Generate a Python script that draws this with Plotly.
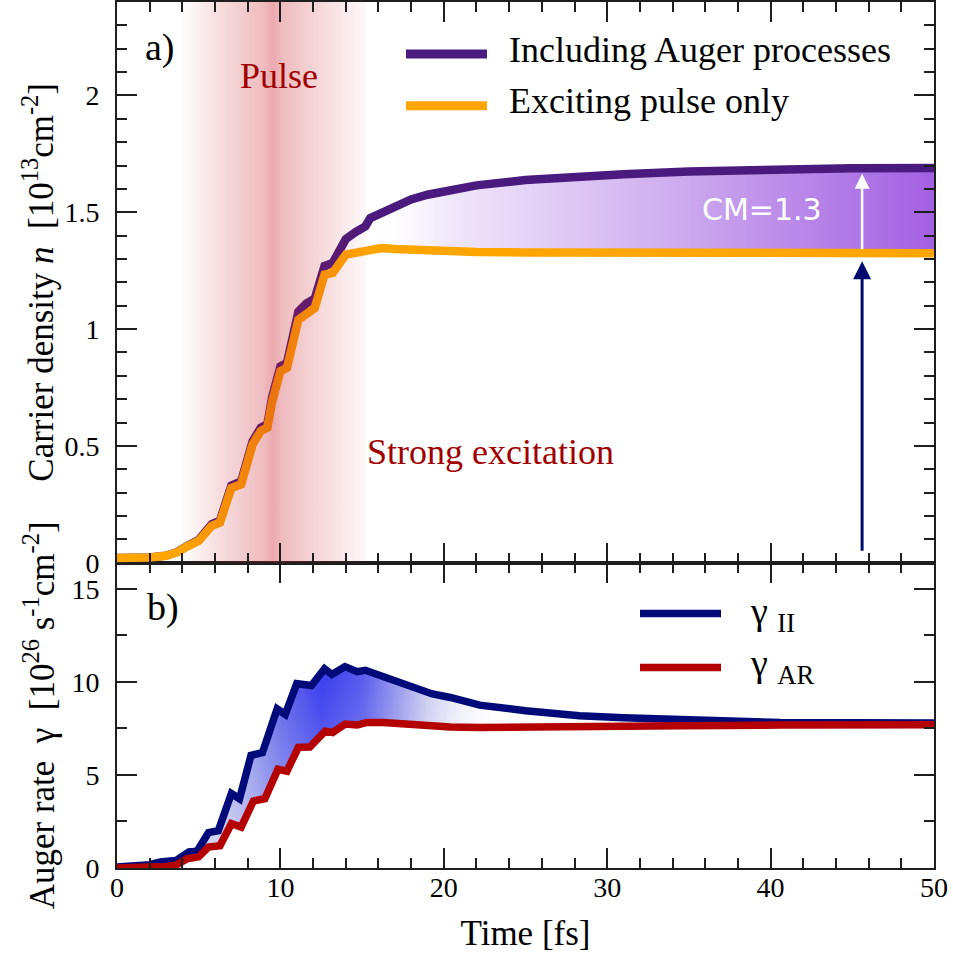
import plotly.graph_objects as go

# ------------------------------------------------------------------
# Data
# ------------------------------------------------------------------
# Panel a) carrier density n [1e13 cm^-2] vs time [fs]
T_N = [0, 1, 2, 3, 3.7, 4.3, 5.0, 5.8, 6.3, 7.0, 7.6, 8.3, 8.8, 9.2, 9.5,
       10.0, 10.4, 11.1, 11.6, 12.1, 12.7, 13.2, 14.0, 14.6, 15.2, 15.5,
       16.2, 17, 18, 19, 20, 22, 25, 28, 31, 35, 40, 45, 50]
N_AUGER = [0.02, 0.02, 0.022, 0.03, 0.046, 0.072, 0.097, 0.165, 0.18, 0.33,
           0.348, 0.52, 0.578, 0.592, 0.71, 0.84, 0.855, 1.075, 1.11, 1.13,
           1.27, 1.283, 1.385, 1.415, 1.44, 1.475, 1.497, 1.53, 1.555, 1.575,
           1.59, 1.615, 1.638, 1.652, 1.663, 1.675, 1.684, 1.688, 1.69]
N_PULSE = [0.02, 0.02, 0.022, 0.03, 0.045, 0.07, 0.094, 0.158, 0.172, 0.32,
           0.336, 0.507, 0.564, 0.578, 0.69, 0.82, 0.834, 1.04, 1.07, 1.09,
           1.233, 1.24, 1.319, 1.325, 1.34, 1.342, 1.347, 1.343, 1.34, 1.336,
           1.333, 1.33, 1.328, 1.327, 1.326, 1.325, 1.325, 1.325, 1.325]

# Panel b) Auger rates gamma [1e26 s^-1 cm^-2] vs time [fs]
T_II = [0, 1, 2, 2.65, 3.6, 4.4, 4.9, 5.6, 6.2, 7.0, 7.5, 8.2, 8.9, 9.8,
        10.3, 11.0, 11.9, 12.7, 13.15, 13.95, 14.7, 15.2, 15.9, 16.8, 18,
        19.3, 20.4, 22.2, 25, 28.3, 31, 34.5, 37.5, 40.6, 45, 50]
G_II = [0.05, 0.1, 0.18, 0.32, 0.4, 0.86, 0.9, 1.9, 2.0, 4.0, 3.72, 6.05,
        6.2, 8.55, 8.25, 9.9, 9.8, 10.7, 10.4, 10.82, 10.55, 10.62, 10.4,
        10.2, 9.8, 9.35, 9.16, 8.75, 8.45, 8.18, 8.07, 7.97, 7.88, 7.82,
        7.8, 7.79]
T_AR = [0, 1, 2, 3, 3.6, 4.3, 5.0, 5.6, 6.3, 7.0, 7.6, 8.35, 9.05, 9.85,
        10.4, 11.1, 11.8, 12.74, 13.2, 13.96, 14.7, 15.3, 16.3, 18.3, 20.4,
        22.2, 25, 28.3, 34.5, 40.6, 50]
G_AR = [0.0, 0.0, 0.02, 0.08, 0.15, 0.5, 0.6, 1.12, 1.2, 2.38, 2.2, 3.6,
        3.72, 5.3, 5.2, 6.48, 6.5, 7.35, 7.28, 7.73, 7.68, 7.82, 7.82, 7.65,
        7.57, 7.55, 7.55, 7.59, 7.64, 7.68, 7.7]

X_TICKS = [0, 10, 20, 30, 40, 50]
N_TICKS = [0, 0.5, 1, 1.5, 2]
G_TICKS = [0, 5, 10, 15]

# ------------------------------------------------------------------
# Styling / layout constants
# ------------------------------------------------------------------
SERIF = "Liberation Serif"
SANS = "DejaVu Sans"
PURPLE = "#4a1a7e"
ORANGE = "#ffa500"
NAVY = "#000a78"
RED = "#b40000"
DARKRED = "#a00000"
FRAME = "#1e1e1e"

W, H = 953, 961
ML, MR, MT, MB = 117, 19, 0, 93
PW, PH = W - ML - MR, H - MT - MB
SPLIT = 306 / PH                      # bottom panel height fraction
N_RANGE = [0, 2.4]
G_RANGE = [0, 16.4]
PULSE_START, PULSE_END = 3.85, 15.25
CM_T = 45.6                            # time position of CM arrows


def px(xp):
    return (xp - ML) / PW


def py(yp):
    return (H - MB - yp) / PH


fig = go.Figure()

# ---------------- panel a) ----------------
# gradient fill between the two carrier-density curves
fig.add_trace(go.Scatter(x=T_N, y=N_PULSE, xaxis="x2", yaxis="y2", mode="lines",
                         line=dict(width=0), showlegend=False, hoverinfo="skip"))
fig.add_trace(go.Scatter(
    x=T_N, y=N_AUGER, xaxis="x2", yaxis="y2", mode="lines",
    line=dict(width=0), fill="tonexty", showlegend=False, hoverinfo="skip",
    fillgradient=dict(type="horizontal", start=15, stop=50,
                      colorscale=[[0, "rgba(255,255,255,0)"],
                                  [0.15, "rgba(240,232,250,1)"],
                                  [0.55, "rgb(205,172,238)"],
                                  [1, "rgb(162,96,226)"]])))
fig.add_trace(go.Scatter(x=T_N, y=N_AUGER, xaxis="x2", yaxis="y2", mode="lines",
                         name="Including Auger processes",
                         line=dict(color=PURPLE, width=8.5), showlegend=False))
fig.add_trace(go.Scatter(x=T_N, y=N_PULSE, xaxis="x2", yaxis="y2", mode="lines",
                         name="Exciting pulse only",
                         line=dict(color=ORANGE, width=8.5), showlegend=False))
# exciting pulse band (semi-transparent overlay)
fig.add_trace(go.Scatter(
    x=[PULSE_START, PULSE_END, PULSE_END, PULSE_START, PULSE_START],
    y=[N_RANGE[0], N_RANGE[0], N_RANGE[1], N_RANGE[1], N_RANGE[0]],
    xaxis="x2", yaxis="y2", mode="lines", line=dict(width=0), fill="toself",
    showlegend=False, hoverinfo="skip",
    fillgradient=dict(type="horizontal", start=PULSE_START, stop=PULSE_END,
                      colorscale=[[0, "rgba(200,30,40,0.0)"],
                                  [0.06, "rgba(200,30,40,0.04)"],
                                  [0.18, "rgba(200,30,40,0.13)"],
                                  [0.34, "rgba(200,30,40,0.23)"],
                                  [0.45, "rgba(200,30,40,0.30)"],
                                  [0.5, "rgba(200,30,40,0.38)"],
                                  [0.55, "rgba(200,30,40,0.30)"],
                                  [0.66, "rgba(200,30,40,0.23)"],
                                  [0.82, "rgba(200,30,40,0.13)"],
                                  [0.94, "rgba(200,30,40,0.06)"],
                                  [1, "rgba(200,30,40,0.03)"]])))

# ---------------- panel b) ----------------
fig.add_trace(go.Scatter(x=T_AR, y=G_AR, mode="lines", line=dict(width=0),
                         showlegend=False, hoverinfo="skip"))
fig.add_trace(go.Scatter(
    x=T_II, y=G_II, mode="lines", line=dict(width=0), fill="tonexty",
    showlegend=False, hoverinfo="skip",
    fillgradient=dict(type="horizontal", start=3, stop=23,
                      colorscale=[[0, "rgb(215,217,240)"],
                                  [0.2, "rgb(165,170,232)"],
                                  [0.35, "rgb(95,100,232)"],
                                  [0.475, "rgb(55,58,236)"],
                                  [0.6, "rgb(85,88,236)"],
                                  [0.7, "rgb(145,145,236)"],
                                  [0.8, "rgb(205,205,242)"],
                                  [0.9, "rgb(240,240,250)"],
                                  [1, "rgb(255,255,255)"]])))
fig.add_trace(go.Scatter(x=T_AR, y=G_AR, mode="lines", line=dict(width=0),
                         showlegend=False, hoverinfo="skip"))
fig.add_trace(go.Scatter(
    x=T_II, y=G_II, mode="lines", line=dict(width=0), fill="tonexty",
    showlegend=False, hoverinfo="skip",
    fillgradient=dict(type="vertical", start=0, stop=11,
                      colorscale=[[0, "rgba(255,255,255,0.45)"],
                                  [0.45, "rgba(255,255,255,0.25)"],
                                  [0.75, "rgba(255,255,255,0.1)"],
                                  [1, "rgba(255,255,255,0)"]])))
fig.add_trace(go.Scatter(x=T_II, y=G_II, mode="lines", name="γ II",
                         line=dict(color=NAVY, width=7.5), showlegend=False))
fig.add_trace(go.Scatter(x=T_AR, y=G_AR, mode="lines", name="γ AR",
                         line=dict(color=RED, width=7.5), showlegend=False))

# ---------------- axes ----------------
tickfont = dict(family=SERIF, size=28, color="black")
titlefont = dict(family=SERIF, size=35, color="black")
common = dict(showline=True, linewidth=2, linecolor=FRAME, mirror="allticks",
              ticks="inside", ticklen=20, tickwidth=1.6, tickcolor=FRAME,
              showgrid=False, zeroline=False, tickfont=tickfont)

fig.update_layout(
    xaxis=dict(domain=[0, 1], anchor="y", range=[0, 50], tickvals=X_TICKS,
               minor=dict(ticks="inside", ticklen=10, tickwidth=1.6,
                          tickcolor=FRAME, dtick=2, showgrid=False),
               title=dict(text="Time [fs]", font=titlefont, standoff=19),
               ticklabelstandoff=-7, **common),
    xaxis2=dict(domain=[0, 1], anchor="y2", range=[0, 50], tickvals=X_TICKS,
                matches="x", showticklabels=False,
                minor=dict(ticks="inside", ticklen=10, tickwidth=1.6,
                           tickcolor=FRAME, dtick=2, showgrid=False),
                **common),
    yaxis=dict(domain=[0, SPLIT], anchor="x", range=G_RANGE, tickvals=G_TICKS,
               minor=dict(ticks="inside", ticklen=10, tickwidth=1.6,
                          tickcolor=FRAME, dtick=2.5, showgrid=False),
               title=dict(text="Auger rate\u00a0 γ \u00a0[10<sup>26</sup> s<sup>-1</sup>cm<sup>-2</sup>]",
                          font=titlefont, standoff=6),
               ticklabelstandoff=10, **common),
    yaxis2=dict(domain=[SPLIT, 1], anchor="x2", range=N_RANGE, tickvals=N_TICKS,
                minor=dict(ticks="inside", ticklen=10, tickwidth=1.6,
                           tickcolor=FRAME, dtick=0.1, showgrid=False),
                title=dict(text="Carrier density <i>n</i>\u00a0 [10<sup>13</sup>cm<sup>-2</sup>]",
                           font=titlefont, standoff=0),
                ticklabelstandoff=10, **common),
    width=W, height=H, margin=dict(l=ML, r=MR, t=MT, b=MB),
    plot_bgcolor="white", paper_bgcolor="white", showlegend=False,
)

# ---------------- legends (drawn) ----------------
shapes = [
    dict(type="line", xref="paper", yref="paper", x0=px(406), x1=px(487),
         y0=py(52), y1=py(52), line=dict(color=PURPLE, width=9)),
    dict(type="line", xref="paper", yref="paper", x0=px(406), x1=px(487),
         y0=py(104), y1=py(104), line=dict(color=ORANGE, width=9)),
    dict(type="line", xref="paper", yref="paper", x0=px(640), x1=px(721),
         y0=py(613), y1=py(613), line=dict(color=NAVY, width=7.5)),
    dict(type="line", xref="paper", yref="paper", x0=px(640), x1=px(721),
         y0=py(667), y1=py(667), line=dict(color=RED, width=7.5)),
]
fig.update_layout(shapes=shapes)

ann = []


def text(xp, yp, s, size=36, color="black", family=SERIF, xanchor="left"):
    ann.append(dict(x=px(xp), y=py(yp), xref="paper", yref="paper", text=s,
                    showarrow=False, xanchor=xanchor, yanchor="middle",
                    font=dict(family=family, size=size, color=color)))


text(507, 48, "Including Auger processes", 36)
text(507, 99, "Exciting pulse only", 36)
text(748, 613, "γ <sub>II</sub>", 38)
text(748, 666, "γ <sub>AR</sub>", 38)
text(143, 46, "a)", 38)
text(145, 607, "b)", 38)
text(279, 74, "Pulse", 36, DARKRED, xanchor="center")
text(490, 451, "Strong excitation", 36, DARKRED, xanchor="center")

ann.append(dict(x=39.5, y=1.51, xref="x2", yref="y2",
                text=f"CM={N_AUGER[-1] / N_PULSE[-1]:.1f}", showarrow=False,
                font=dict(family=SANS, size=30, color="white")))
# CM arrows
ann.append(dict(x=CM_T, y=N_AUGER[-1] - 0.025, ax=CM_T, ay=N_PULSE[-1] + 0.01,
                xref="x2", yref="y2", axref="x2", ayref="y2", text="",
                showarrow=True, arrowhead=2, arrowsize=1.2, arrowwidth=2.5,
                arrowcolor="white", standoff=0, startstandoff=0))
ann.append(dict(x=CM_T, y=N_PULSE[-1] - 0.035, ax=CM_T, ay=0.045,
                xref="x2", yref="y2", axref="x2", ayref="y2", text="",
                showarrow=True, arrowhead=2, arrowsize=1.2, arrowwidth=3,
                arrowcolor="#000a6e", standoff=0, startstandoff=0))
fig.update_layout(annotations=ann)

fig.write_html(
    "out.html",
    config={"displayModeBar": False},
    post_script="document.body.style.margin='0';document.body.style.overflow='hidden';",
)
